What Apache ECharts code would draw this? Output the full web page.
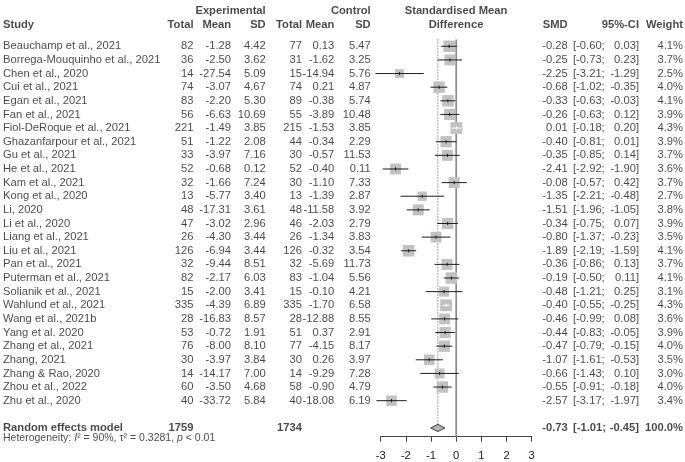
<!DOCTYPE html>
<html>
<head>
<meta charset="utf-8">
<script src="https://cdn.jsdelivr.net/npm/echarts/dist/echarts.min.js"></script>
<style>
html,body{margin:0;padding:0;background:#fff;}
#chart{width:685px;height:462px;}
</style>
</head>
<body>
<div id="chart"></div>
<script>
// ---------------- DATA ----------------
const studies = [
  "Beauchamp et al., 2021","Borrega-Mouquinho et al., 2021","Chen et al., 2020","Cui et al., 2021",
  "Egan et al., 2021","Fan et al., 2021","Fiol-DeRoque et al., 2021","Ghazanfarpour et al., 2021",
  "Gu et al., 2021","He et al., 2021","Kam et al., 2021","Kong et al., 2020","Li, 2020",
  "Li et al., 2020","Liang et al., 2021","Liu et al., 2021","Pan et al., 2021","Puterman et al., 2021",
  "Solianik et al., 2021","Wahlund et al., 2021","Wang et al., 2021b","Yang et al. 2020",
  "Zhang et al., 2021","Zhang, 2021","Zhang & Rao, 2020","Zhou et al., 2022","Zhu et al., 2020"
];
const expTotal = [82,36,14,74,83,56,221,51,33,52,32,13,48,47,26,126,32,82,15,335,28,53,76,30,14,60,40];
const expMean  = [-1.28,-2.50,-27.54,-3.07,-2.20,-6.63,-1.49,-1.22,-3.97,-0.68,-1.66,-5.77,-17.31,-3.02,-4.30,-6.94,-9.44,-2.17,-2.00,-4.39,-16.83,-0.72,-8.00,-3.97,-14.17,-3.50,-33.72];
const expSD    = [4.42,3.62,5.09,4.67,5.30,10.69,3.85,2.08,7.16,0.12,7.24,3.40,3.61,2.96,3.44,3.44,8.51,6.03,3.41,6.89,8.57,1.91,8.10,3.84,7.00,4.68,5.84];
const ctlTotal = [77,31,15,74,89,55,215,44,30,52,30,13,48,46,26,126,32,83,15,335,28,51,77,30,14,58,40];
const ctlMean  = [0.13,-1.62,-14.94,0.21,-0.38,-3.89,-1.53,-0.34,-0.57,-0.40,-1.10,-1.39,-11.58,-2.03,-1.34,-0.32,-5.69,-1.04,-0.10,-1.70,-12.88,0.37,-4.15,0.26,-9.29,-0.90,-18.08];
const ctlSD    = [5.47,3.25,5.76,4.87,5.74,10.48,3.85,2.29,11.53,0.11,7.33,2.87,3.92,2.79,3.83,3.54,11.73,5.56,4.21,6.58,8.55,2.91,8.17,3.97,7.28,4.79,6.19];
const smd      = [-0.28,-0.25,-2.25,-0.68,-0.33,-0.26,0.01,-0.40,-0.35,-2.41,-0.08,-1.35,-1.51,-0.34,-0.80,-1.89,-0.36,-0.19,-0.48,-0.40,-0.46,-0.44,-0.47,-1.07,-0.66,-0.55,-2.57];
const ciLow    = [-0.60,-0.73,-3.21,-1.02,-0.63,-0.63,-0.18,-0.81,-0.85,-2.92,-0.57,-2.21,-1.96,-0.75,-1.37,-2.19,-0.86,-0.50,-1.21,-0.55,-0.99,-0.83,-0.79,-1.61,-1.43,-0.91,-3.17];
const ciHigh   = [0.03,0.23,-1.29,-0.35,-0.03,0.12,0.20,0.01,0.14,-1.90,0.42,-0.48,-1.05,0.07,-0.23,-1.59,0.13,0.11,0.25,-0.25,0.08,-0.05,-0.15,-0.53,0.10,-0.18,-1.97];
const weight   = [4.1,3.7,2.5,4.0,4.1,3.9,4.3,3.9,3.7,3.6,3.7,2.7,3.8,3.9,3.5,4.1,3.7,4.1,3.1,4.3,3.6,3.9,4.0,3.5,3.0,4.0,3.4];

const pooledLabel = "Random effects model";
const pooledExpTotal = 1759;
const pooledCtlTotal = 1734;
const pooledSMD = -0.73;
const pooledLow = -1.01;
const pooledHigh = -0.45;
const pooledWeight = 100.0;

const xTicks = [-3,-2,-1,0,1,2,3];

// ---------------- LAYOUT ----------------
const W = 685, H = 462;
const ROW0_Y = 46.3, ROW_PX = 13.63;
const AXIS_Y = 436.7;
const PLOT_L = 380.7, PLOT_R = 531.7;
const COL = {study:3, eTot:193.5, eMean:231, eSD:265.7, cTot:302, cMean:334.3, cSD:370.7,
             smd:567.7, ciL:573, ciR:639, wt:683, smdHead:456};
const HEAD1_ROW = -2.6, HEAD2_ROW = -1.55;
const POOL_ROW = studies.length + 1;
const HET_ROW = POOL_ROW + 0.75;
const BOX_K = 5.7;
const FONT = '"Liberation Sans", Arial, sans-serif';
const FS = 11.2;
const TXT = '#1a1a1a';

const f2 = v => v.toFixed(2);

function textSeries(points, pos, bold) {
  return {
    type: 'scatter', xAxisIndex: 0, yAxisIndex: 0, symbolSize: 0, silent: true, animation: false,
    data: points,
    label: {
      show: true, position: pos, distance: 0, fontFamily: FONT, fontSize: FS,
      fontWeight: bold ? 'bold' : 'normal', color: TXT,
      formatter: p => p.data[2]
    }
  };
}

const series = [];
const rows = studies.map((s, i) => i);

// study rows
series.push(textSeries(rows.map(i => [COL.study, i, studies[i]]), 'right', false));
series.push(textSeries(rows.map(i => [COL.eTot, i, String(expTotal[i])]), 'left', false));
series.push(textSeries(rows.map(i => [COL.eMean, i, f2(expMean[i])]), 'left', false));
series.push(textSeries(rows.map(i => [COL.eSD, i, f2(expSD[i])]), 'left', false));
series.push(textSeries(rows.map(i => [COL.cTot, i, String(ctlTotal[i])]), 'left', false));
series.push(textSeries(rows.map(i => [COL.cMean, i, f2(ctlMean[i])]), 'left', false));
series.push(textSeries(rows.map(i => [COL.cSD, i, f2(ctlSD[i])]), 'left', false));
series.push(textSeries(rows.map(i => [COL.smd, i, f2(smd[i])]), 'left', false));
series.push(textSeries(rows.map(i => [COL.ciL, i, '[' + f2(ciLow[i]) + ';']), 'right', false));
series.push(textSeries(rows.map(i => [COL.ciR, i, f2(ciHigh[i]) + ']']), 'left', false));
series.push(textSeries(rows.map(i => [COL.wt, i, weight[i].toFixed(1) + '%']), 'left', false));

// pooled row
series.push(textSeries([[COL.study, POOL_ROW, pooledLabel]], 'right', true));
series.push(textSeries([
  [COL.eTot, POOL_ROW, String(pooledExpTotal)],
  [COL.cTot, POOL_ROW, String(pooledCtlTotal)],
  [COL.smd, POOL_ROW, f2(pooledSMD)],
  [COL.ciR, POOL_ROW, f2(pooledHigh) + ']'],
  [COL.wt, POOL_ROW, pooledWeight.toFixed(1) + '%']
], 'left', true));
series.push(textSeries([[COL.ciL, POOL_ROW, '[' + f2(pooledLow) + ';']], 'right', true));

// heterogeneity
series.push({
  type: 'scatter', xAxisIndex: 0, yAxisIndex: 0, symbolSize: 0, silent: true, animation: false,
  data: [[COL.study, HET_ROW]],
  label: {
    show: true, position: 'right', distance: 0, fontFamily: FONT, fontSize: 10.5, color: TXT,
    formatter: '{n|Heterogeneity: }{i|I}{n|² = 90%, τ² = 0.3281, }{i|p}{n| < 0.01}',
    rich: {
      n: {fontFamily: FONT, fontSize: 10.5, color: TXT},
      i: {fontFamily: FONT, fontSize: 10.5, color: TXT, fontStyle: 'italic'}
    }
  }
});

// headers
series.push(textSeries([
  [COL.eSD, HEAD1_ROW, 'Experimental'],
  [COL.cSD, HEAD1_ROW, 'Control'],
  [COL.eTot, HEAD2_ROW, 'Total'],
  [COL.eMean, HEAD2_ROW, 'Mean'],
  [COL.eSD, HEAD2_ROW, 'SD'],
  [COL.cTot, HEAD2_ROW, 'Total'],
  [COL.cMean, HEAD2_ROW, 'Mean'],
  [COL.cSD, HEAD2_ROW, 'SD'],
  [COL.smd, HEAD2_ROW, 'SMD'],
  [COL.ciR, HEAD2_ROW, '95%-CI'],
  [COL.wt, HEAD2_ROW, 'Weight']
], 'left', true));
series.push(textSeries([[COL.study, HEAD2_ROW, 'Study']], 'right', true));
series.push(textSeries([
  [COL.smdHead, HEAD1_ROW, 'Standardised Mean'],
  [COL.smdHead, HEAD2_ROW, 'Difference']
], 'inside', true));

// forest: reference lines
const plotTopRow = -0.5;
const plotBotRow = (AXIS_Y - ROW0_Y) / ROW_PX;
series.push({
  type: 'line', xAxisIndex: 1, yAxisIndex: 1, silent: true, animation: false, symbol: 'none',
  data: [[0, plotTopRow], [0, plotBotRow]],
  lineStyle: {color: '#8a8a8a', width: 1.7}, z: 1
});
series.push({
  type: 'line', xAxisIndex: 1, yAxisIndex: 1, silent: true, animation: false, symbol: 'none',
  data: [[pooledSMD, plotTopRow], [pooledSMD, POOL_ROW - 0.28]],
  lineStyle: {color: '#444', width: 1, type: [1, 2]}, z: 1
});

// forest: study boxes and CIs
series.push({
  type: 'custom', xAxisIndex: 1, yAxisIndex: 1, silent: true, animation: false, clip: false, z: 3,
  data: rows.map(i => [i, smd[i], ciLow[i], ciHigh[i], weight[i]]),
  renderItem: function (params, api) {
    const row = api.value(0), est = api.value(1), lo = api.value(2), hi = api.value(3), w = api.value(4);
    const pE = api.coord([est, row]);
    const pL = api.coord([lo, row]);
    const pH = api.coord([hi, row]);
    const s = BOX_K * Math.sqrt(w);
    const inside = (pE[0] - pL[0] <= s / 2) && (pH[0] - pE[0] <= s / 2);
    const lc = inside ? '#ffffff' : '#1e1e1e';
    return {
      type: 'group',
      children: [
        {type: 'rect', shape: {x: pE[0] - s / 2, y: pE[1] - s / 2, width: s, height: s}, style: {fill: '#c2c2c2'}},
        {type: 'line', shape: {x1: pL[0], y1: pE[1], x2: pH[0], y2: pE[1]}, style: {stroke: lc, lineWidth: 1}},
        {type: 'line', shape: {x1: pE[0], y1: pE[1] - 1.6, x2: pE[0], y2: pE[1] + 1.6}, style: {stroke: lc, lineWidth: 1}}
      ]
    };
  }
});

// forest: pooled diamond
series.push({
  type: 'custom', xAxisIndex: 1, yAxisIndex: 1, silent: true, animation: false, clip: false, z: 3,
  data: [[POOL_ROW, pooledSMD, pooledLow, pooledHigh]],
  renderItem: function (params, api) {
    const row = api.value(0);
    const pE = api.coord([api.value(1), row]);
    const pL = api.coord([api.value(2), row]);
    const pH = api.coord([api.value(3), row]);
    const h = 3.6;
    return {
      type: 'polygon',
      shape: {points: [[pL[0], pE[1]], [pE[0], pE[1] - h], [pH[0], pE[1]], [pE[0], pE[1] + h]]},
      style: {fill: '#b4b4b4', stroke: '#3a3a3a', lineWidth: 1}
    };
  }
});

const option = {
  animation: false,
  backgroundColor: '#ffffff',
  grid: [
    {left: 0, top: 0, width: W, height: H},
    {left: PLOT_L, top: ROW0_Y + plotTopRow * ROW_PX, width: PLOT_R - PLOT_L, height: AXIS_Y - (ROW0_Y + plotTopRow * ROW_PX)}
  ],
  xAxis: [
    {type: 'value', gridIndex: 0, min: 0, max: W, show: false},
    {type: 'value', gridIndex: 1, min: xTicks[0], max: xTicks[xTicks.length - 1], interval: 1,
     position: 'bottom',
     axisLine: {show: true, onZero: false, lineStyle: {color: '#444', width: 1}},
     axisTick: {show: true, length: 5, lineStyle: {color: '#444', width: 1}},
     axisLabel: {show: true, margin: 14, fontFamily: FONT, fontSize: FS, color: TXT,
                 formatter: v => String(v)},
     splitLine: {show: false}}
  ],
  yAxis: [
    {type: 'value', gridIndex: 0, inverse: true, min: -ROW0_Y / ROW_PX, max: (H - ROW0_Y) / ROW_PX, show: false},
    {type: 'value', gridIndex: 1, inverse: true, min: plotTopRow, max: plotBotRow, show: false}
  ],
  series: series
};

const chart = echarts.init(document.getElementById('chart'), null, {renderer: 'canvas'});
chart.setOption(option);
</script>
</body>
</html>
